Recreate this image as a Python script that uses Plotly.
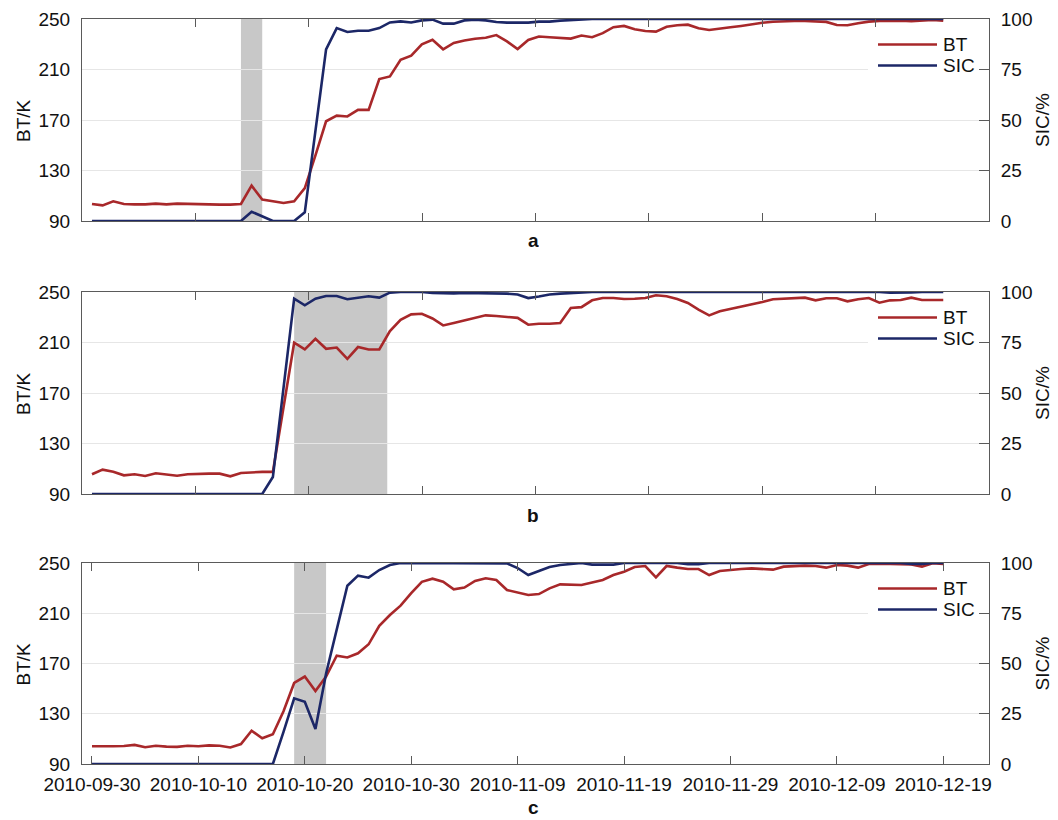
import pandas as pd
import plotly.graph_objects as go

# ---------------- data ----------------
dates = pd.date_range("2010-09-30", "2010-12-19", freq="D")  # 81 daily values

bt_a = [103.5, 102.4, 105.6, 103.5, 103.2, 103.2, 103.8, 103.2, 103.8, 103.5,
        103.2, 103.2, 103.0, 103.0, 103.5, 118.0, 107.0, 105.6, 104.3, 105.6,
        116.0, 142.0, 169.0, 173.5, 172.8, 178.0, 178.0, 202.4, 204.5, 217.7,
        221.0, 230.0, 233.6, 226.0, 231.0, 233.0, 234.4, 235.2, 237.3, 232.3,
        226.2, 233.4, 236.1, 235.5, 234.8, 234.5, 236.9, 235.6, 238.8, 243.5,
        244.5, 241.9, 240.5, 240.0, 243.9, 245.0, 245.5, 242.6, 241.3, 242.6,
        243.4, 244.5, 245.8, 247.0, 247.8, 248.2, 248.4, 248.4, 248.2, 247.7,
        245.2, 245.0, 246.6, 247.9, 248.4, 248.6, 248.6, 248.2, 248.6, 249.2,
        248.7]
sic_a = [0, 0, 0, 0, 0, 0, 0, 0, 0, 0,
         0, 0, 0, 0, 0, 4.6, 2.1, 0, 0, 0,
         4.3, 45.0, 85.0, 95.5, 93.6, 94.2, 94.2, 95.5, 98.3, 98.8,
         98.3, 99.3, 99.7, 97.7, 97.7, 99.3, 99.7, 99.3, 98.5, 98.2,
         98.2, 98.2, 98.7, 98.7, 99.2, 99.5, 99.8, 100, 100, 100,
         100, 100, 100, 100, 99.8, 100, 100, 100, 100, 100,
         100, 100, 100, 100, 100, 100, 100, 100, 100, 100,
         100, 100, 100, 100, 100, 100, 100, 100, 100, 100,
         100]

bt_b = [105.6, 109.3, 107.7, 104.8, 105.6, 104.3, 106.4, 105.6, 104.5, 105.6,
        106.1, 106.1, 106.1, 104.0, 106.7, 107.2, 107.5, 107.5, 158.0, 209.8,
        204.5, 213.0, 205.0, 206.0, 197.0, 206.4, 204.5, 204.5, 219.0, 228.0,
        232.3, 232.8, 229.0, 223.5, 225.5, 227.5, 230.0, 231.5, 231.0, 230.2,
        229.5, 224.1, 224.9, 224.9, 225.5, 237.3, 238.0, 243.4, 245.2, 245.2,
        244.4, 244.7, 245.2, 247.4, 246.6, 244.4, 241.3, 236.0, 231.5, 234.7,
        236.4, 238.5, 240.2, 242.0, 244.2, 244.7, 245.2, 245.5, 243.4, 245.0,
        245.0, 242.6, 244.2, 245.2, 241.5, 243.4, 243.7, 245.5, 243.7, 243.7,
        243.7]
sic_b = [0, 0, 0, 0, 0, 0, 0, 0, 0, 0,
         0, 0, 0, 0, 0, 0, 0, 8.4, 52.0, 96.7,
         93.4, 96.7, 98.0, 98.0, 96.4, 97.0, 97.9, 97.2, 99.7, 100,
         100, 100, 99.5, 99.3, 99.3, 99.5, 99.5, 99.5, 99.5, 99.2,
         98.8, 97.0, 97.8, 98.8, 99.2, 99.5, 100, 100, 100, 100,
         100, 100, 100, 100, 100, 100, 100, 100, 100, 100,
         100, 100, 100, 100, 100, 100, 100, 100, 100, 100,
         100, 100, 100, 100, 100, 99.6, 99.6, 99.8, 100, 100,
         100]

bt_c = [104.1, 103.8, 104.1, 104.3, 105.2, 103.3, 104.5, 103.8, 103.6, 104.5,
        104.1, 104.8, 104.5, 103.2, 105.9, 116.5, 110.5, 113.7, 132.0, 154.5,
        159.6, 148.0, 159.6, 176.2, 174.8, 178.1, 185.3, 200.0, 208.6, 216.0,
        226.0, 235.0, 237.5, 235.1, 229.1, 230.4, 235.7, 237.8, 236.5, 228.5,
        226.7, 224.5, 225.3, 229.8, 233.0, 232.5, 232.5, 234.5, 236.5, 240.4,
        243.0, 246.8, 247.6, 238.6, 247.6, 246.3, 245.2, 245.2, 240.4, 243.6,
        244.7, 245.2, 245.7, 245.2, 244.7, 247.1, 247.5, 247.9, 247.6, 246.3,
        248.4, 247.9, 246.3, 249.2, 249.5, 249.5, 249.5, 248.9, 247.1, 249.8,
        249.2]
sic_c = [0, 0, 0, 0, 0, 0, 0, 0, 0, 0,
         0, 0, 0, 0, 0, 0, 0, 0, 16.0, 32.7,
         31.0, 17.4, 45.0, 67.0, 88.7, 93.7, 92.7, 96.5, 99.0, 100,
         100, 100, 100, 100, 100, 100, 100, 100, 100, 99.8,
         97.5, 94.0, 96.0, 98.0, 99.0, 99.5, 100, 99.2, 99.2, 99.2,
         100, 100, 100, 100, 100, 100, 99.4, 99.4, 100, 100,
         100, 100, 100, 100, 100, 100, 100, 100, 100, 100,
         100, 100, 100, 100, 100, 100, 100, 99.5, 99.5, 100,
         100]

shade_a = ("2010-10-14", "2010-10-16")
shade_b = ("2010-10-19", "2010-10-27 18:00")
shade_c = ("2010-10-19", "2010-10-22")

panel_labels = ["a", "b", "c"]
bt_ticks = [90, 130, 170, 210, 250]
sic_ticks = [0, 25, 50, 75, 100]
date_ticks = pd.date_range("2010-09-30", "2010-12-19", freq="10D")
date_ticktext = [d.strftime("%Y-%m-%d") for d in date_ticks]

# ---------------- style ----------------
OFF = 0                      # page body margin is removed (see post_script)
W, H = 1058, 820
ML, MT = 82, 19
MR = W - 989
MB = H - 764
PW, PH = W - ML - MR, H - MT - MB
BT_COLOR = "#a8282a"
SIC_COLOR = "#1c2767"
FRAME = "#5a5a5a"
GRID = "#e6e6e6"
SHADE = "#c8c8c8"
FONT = "Liberation Sans, Arial, Helvetica, sans-serif"
FS = 19

panel_px = [(19, 221), (292, 494), (563, 764)]   # pixel top/bottom of each panel


def px2x(px):
    return (px - OFF - ML) / PW


def py2y(py):
    return (MT + PH - (py - OFF)) / PH


x_start = pd.Timestamp("2010-09-29 01:30")
x_end = pd.Timestamp("2010-12-23 07:10")
span = x_end - x_start
even_ticks = [(x_start + span * k / 8).strftime("%Y-%m-%d %H:%M:%S") for k in range(1, 8)]

panels = [(bt_a, sic_a, shade_a), (bt_b, sic_b, shade_b), (bt_c, sic_c, shade_c)]

fig = go.Figure()
layout = dict(
    width=W, height=H, autosize=False,
    margin=dict(l=ML, r=MR, t=MT, b=MB, pad=0),
    paper_bgcolor="white", plot_bgcolor="white",
    font=dict(family=FONT, size=FS, color="#111111"),
    showlegend=False,
    template="none",
)
shapes = []
annotations = []

for i, (bt, sic, shade) in enumerate(panels):
    n = i + 1
    xa = "x" if n == 1 else f"x{n}"
    ya = "y" if n == 1 else f"y{n}"
    ys = f"y{n + 3}"
    top_px, bot_px = panel_px[i]
    dom = [py2y(bot_px), py2y(top_px)]

    fig.add_trace(go.Scatter(x=dates, y=bt, mode="lines", name="BT",
                             line=dict(color=BT_COLOR, width=2.6),
                             xaxis=xa, yaxis=ya))
    fig.add_trace(go.Scatter(x=dates, y=sic, mode="lines", name="SIC",
                             line=dict(color=SIC_COLOR, width=2.6),
                             xaxis=xa, yaxis=ys))

    xkey = "xaxis" if n == 1 else f"xaxis{n}"
    ykey = "yaxis" if n == 1 else f"yaxis{n}"
    yskey = f"yaxis{n + 3}"

    xcfg = dict(
        type="date", domain=[0, 1], anchor=ya,
        range=[x_start.strftime("%Y-%m-%d %H:%M:%S"), x_end.strftime("%Y-%m-%d %H:%M:%S")],
        showgrid=False, zeroline=False,
        showline=True, linecolor=FRAME, linewidth=1, mirror="ticks",
        ticks="inside", ticklen=8, tickcolor=FRAME, tickwidth=1,
        automargin=False,
    )
    if n < 3:
        xcfg.update(tickmode="array", tickvals=even_ticks, showticklabels=False)
    else:
        xcfg.update(tickmode="array",
                    tickvals=[d.strftime("%Y-%m-%d") for d in date_ticks],
                    ticktext=date_ticktext, showticklabels=True,
                    ticklabelstandoff=3,
                    tickfont=dict(family=FONT, size=FS, color="#111111"))
    layout[xkey] = xcfg

    layout[ykey] = dict(
        domain=dom, anchor=xa, range=[90, 250],
        tickmode="array", tickvals=bt_ticks,
        showgrid=True, gridcolor=GRID, gridwidth=1, zeroline=False,
        showline=True, linecolor=FRAME, linewidth=1, mirror=False,
        ticks="", ticklabelstandoff=7,
        tickfont=dict(family=FONT, size=FS, color="#111111"),
        automargin=False,
    )
    layout[yskey] = dict(
        overlaying=ya, anchor=xa, side="right", range=[0, 100],
        tickmode="array", tickvals=sic_ticks,
        showgrid=False, zeroline=False,
        showline=True, linecolor=FRAME, linewidth=1,
        ticks="inside", ticklen=10, tickcolor=FRAME, tickwidth=1,
        ticklabelstandoff=7,
        tickfont=dict(family=FONT, size=FS, color="#111111"),
        automargin=False,
    )

    # shaded anomaly window
    shapes.append(dict(type="rect", xref=xa, yref=f"{ya} domain",
                       x0=shade[0], x1=shade[1], y0=0, y1=1,
                       fillcolor=SHADE, line=dict(width=0), layer="below"))

    # legend (white box, sample lines, labels)
    shapes.append(dict(type="rect", xref="paper", yref="paper",
                       x0=px2x(868), x1=px2x(979), y0=py2y(top_px + 58), y1=py2y(top_px + 14),
                       fillcolor="white", line=dict(width=0), layer="above"))
    for name, color, dy in (("BT", BT_COLOR, 25.5), ("SIC", SIC_COLOR, 46.5)):
        shapes.append(dict(type="line", xref="paper", yref="paper",
                           x0=px2x(878), x1=px2x(937), y0=py2y(top_px + dy), y1=py2y(top_px + dy),
                           line=dict(color=color, width=2.6), layer="above"))
        annotations.append(dict(text=name, xref="paper", yref="paper",
                                x=px2x(941), y=py2y(top_px + dy), xanchor="left", yanchor="middle",
                                showarrow=False, font=dict(family=FONT, size=FS, color="#111111")))

    mid = (top_px + bot_px) / 2
    annotations.append(dict(text="BT/K", xref="paper", yref="paper",
                            x=px2x(23), y=py2y(mid), xanchor="center", yanchor="middle",
                            textangle=-90, showarrow=False,
                            font=dict(family=FONT, size=FS, color="#111111")))
    annotations.append(dict(text="SIC/%", xref="paper", yref="paper",
                            x=px2x(1042), y=py2y(mid), xanchor="center", yanchor="middle",
                            textangle=-90, showarrow=False,
                            font=dict(family=FONT, size=FS, color="#111111")))

label_py = [240, 515, 807]
for lab, py in zip(panel_labels, label_py):
    annotations.append(dict(text=f"<b>{lab}</b>", xref="paper", yref="paper",
                            x=px2x(533), y=py2y(py), xanchor="center", yanchor="middle",
                            height=14, valign="middle",
                            showarrow=False, font=dict(family=FONT, size=FS, color="#111111")))

layout["shapes"] = shapes
layout["annotations"] = annotations
fig.update_layout(**layout)

fig.write_html("out.html",
               config={"displayModeBar": False},
               post_script="document.body.style.margin='0px';document.body.style.overflow='hidden';")
